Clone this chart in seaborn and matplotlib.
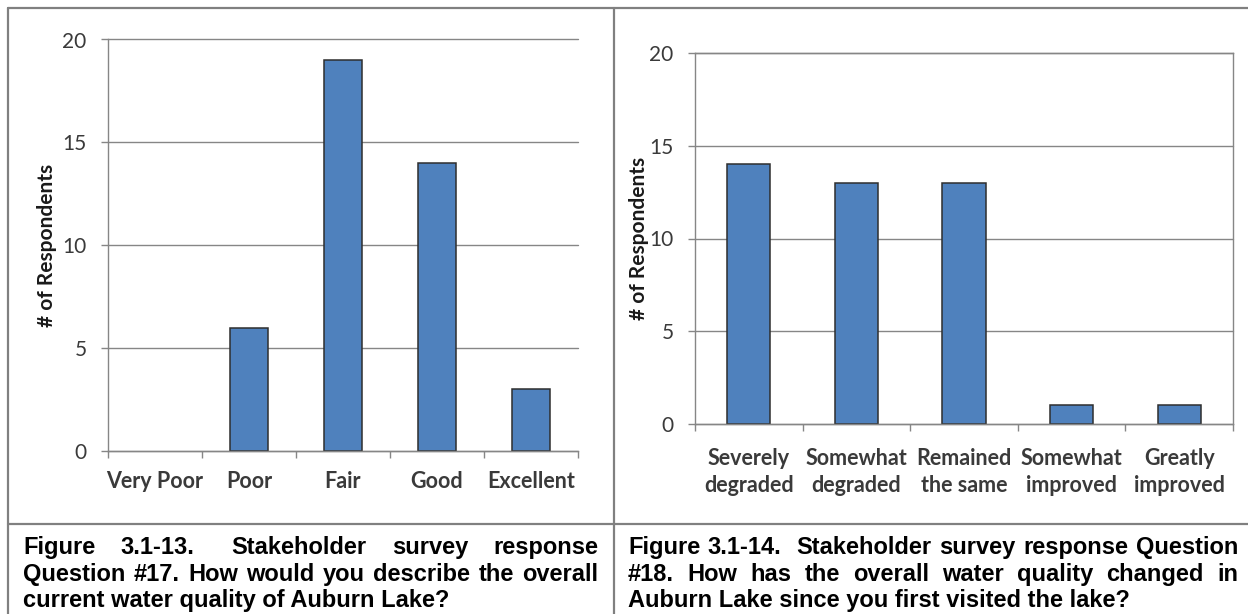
import numpy as np
import matplotlib
matplotlib.use('Agg')
import matplotlib.pyplot as plt
import seaborn as sns

# survey answers, Question #17 and #18
q17_labels = ['Very Poor', 'Poor', 'Fair', 'Good', 'Excellent']
q17_counts = [0, 6, 19, 14, 3]
q18_labels = ['Severely\ndegraded', 'Somewhat\ndegraded', 'Remained\nthe same',
              'Somewhat\nimproved', 'Greatly\nimproved']
q18_counts = [14, 13, 13, 1, 1]
y_ticks = [0, 5, 10, 15, 20]

caption17 = ['Figure  3.1-13.   Stakeholder  survey  response',
             'Question #17. How would you describe the overall',
             'current water quality of Auburn Lake?']
caption18 = ['Figure 3.1-14.  Stakeholder survey response Question',
             '#18. How has the overall water quality changed in',
             'Auburn Lake since you first visited the lake?']

BLUE = '#4F81BD'
EDGE = '#2e2e2e'
AXIS = '#868686'
BORDER = '#808080'

sns.set_style('ticks')
plt.rcParams['font.family'] = ['Lato', 'DejaVu Sans']

W, H = 1248, 614
fig = plt.figure(figsize=(W / 100, H / 100), dpi=100)

# full-figure axes in pixel units for the table lines and captions
bg = fig.add_axes([0, 0, 1, 1], zorder=-1)
bg.set_xlim(0, W)
bg.set_ylim(H, 0)
bg.axis('off')


def px_axes(x0, y0, x1, y1):
    return fig.add_axes([x0 / W, 1 - y1 / H, (x1 - x0) / W, (y1 - y0) / H])


def bar_panel(ax, labels, counts, boxed, label_x, xpad):
    sns.barplot(x=labels, y=counts, ax=ax, color=BLUE, saturation=1,
                width=0.4, edgecolor=EDGE, linewidth=1.1, errorbar=None)
    for p in ax.patches:
        if p.get_height() == 0:
            p.set_linewidth(0)
    ax.set_axisbelow(True)
    ax.set_xlim(-0.5, len(labels) - 0.5)
    ax.set_ylim(0, 20)
    ax.set_yticks(y_ticks)
    ax.yaxis.grid(True, color=AXIS, lw=1)
    for gl in ax.get_ygridlines():
        gl.set_clip_on(False)
    ax.set_xticks(range(len(labels)))
    ax.set_xticklabels(labels, fontweight='bold', fontsize=15.5, color='#3a3a3a',
                       linespacing=1.4)
    ax.set_xticks(np.arange(-0.5, len(labels)), minor=True)
    ax.tick_params(axis='x', which='major', length=0, pad=xpad)
    ax.tick_params(axis='x', which='minor', length=5, color=AXIS, width=1)
    ax.tick_params(axis='y', length=5, color=AXIS, width=1, labelsize=15,
                   labelcolor='#3a3a3a', pad=10.5)
    ax.set_xlabel('')
    ax.set_ylabel('# of Respondents', fontweight='bold', fontsize=15, color='#1a1a1a')
    ax.yaxis.set_label_coords(label_x, 0.5)
    for side, sp in ax.spines.items():
        sp.set_color(AXIS)
        sp.set_linewidth(1)
        if not boxed and side in ('top', 'right'):
            sp.set_visible(False)


ax1 = px_axes(108, 39.5, 578, 451)
bar_panel(ax1, q17_labels, q17_counts, False, -0.109, 14.5)

ax2 = px_axes(695, 53, 1233, 424)
bar_panel(ax2, q18_labels, q18_counts, True, -0.0856, 17)

# table borders
bg.plot([8, 8], [7.5, H], color=BORDER, lw=1.6)
bg.plot([8, W], [7.5, 7.5], color=BORDER, lw=1.6)
bg.plot([614, 614], [7.5, H], color=BORDER, lw=1.6)
bg.plot([8, W], [524, 524], color=BORDER, lw=1.6)

# justified captions
renderer = fig.canvas.get_renderer()
cap_font = dict(family='Liberation Sans', fontweight='bold', fontsize=17,
                color='black', va='baseline', ha='left')


def caption(lines, x0, x1, baselines):
    for i, (line, y) in enumerate(zip(lines, baselines)):
        if i == len(lines) - 1:
            bg.text(x0, y, line, **cap_font)
            continue
        words = line.split(' ')
        arts = [bg.text(x0, y, w, **cap_font) for w in words]
        widths = [a.get_window_extent(renderer).width if w else 0
                  for a, w in zip(arts, words)]
        gap = (x1 - x0 - sum(widths)) / (len(words) - 1)
        x = x0
        for a, wd in zip(arts, widths):
            a.set_x(x)
            x += wd + gap


caption(caption17, 23, 598, [554, 581, 607])
caption(caption18, 628, 1238, [554, 581, 607])

fig.savefig('out.png', dpi=100)
